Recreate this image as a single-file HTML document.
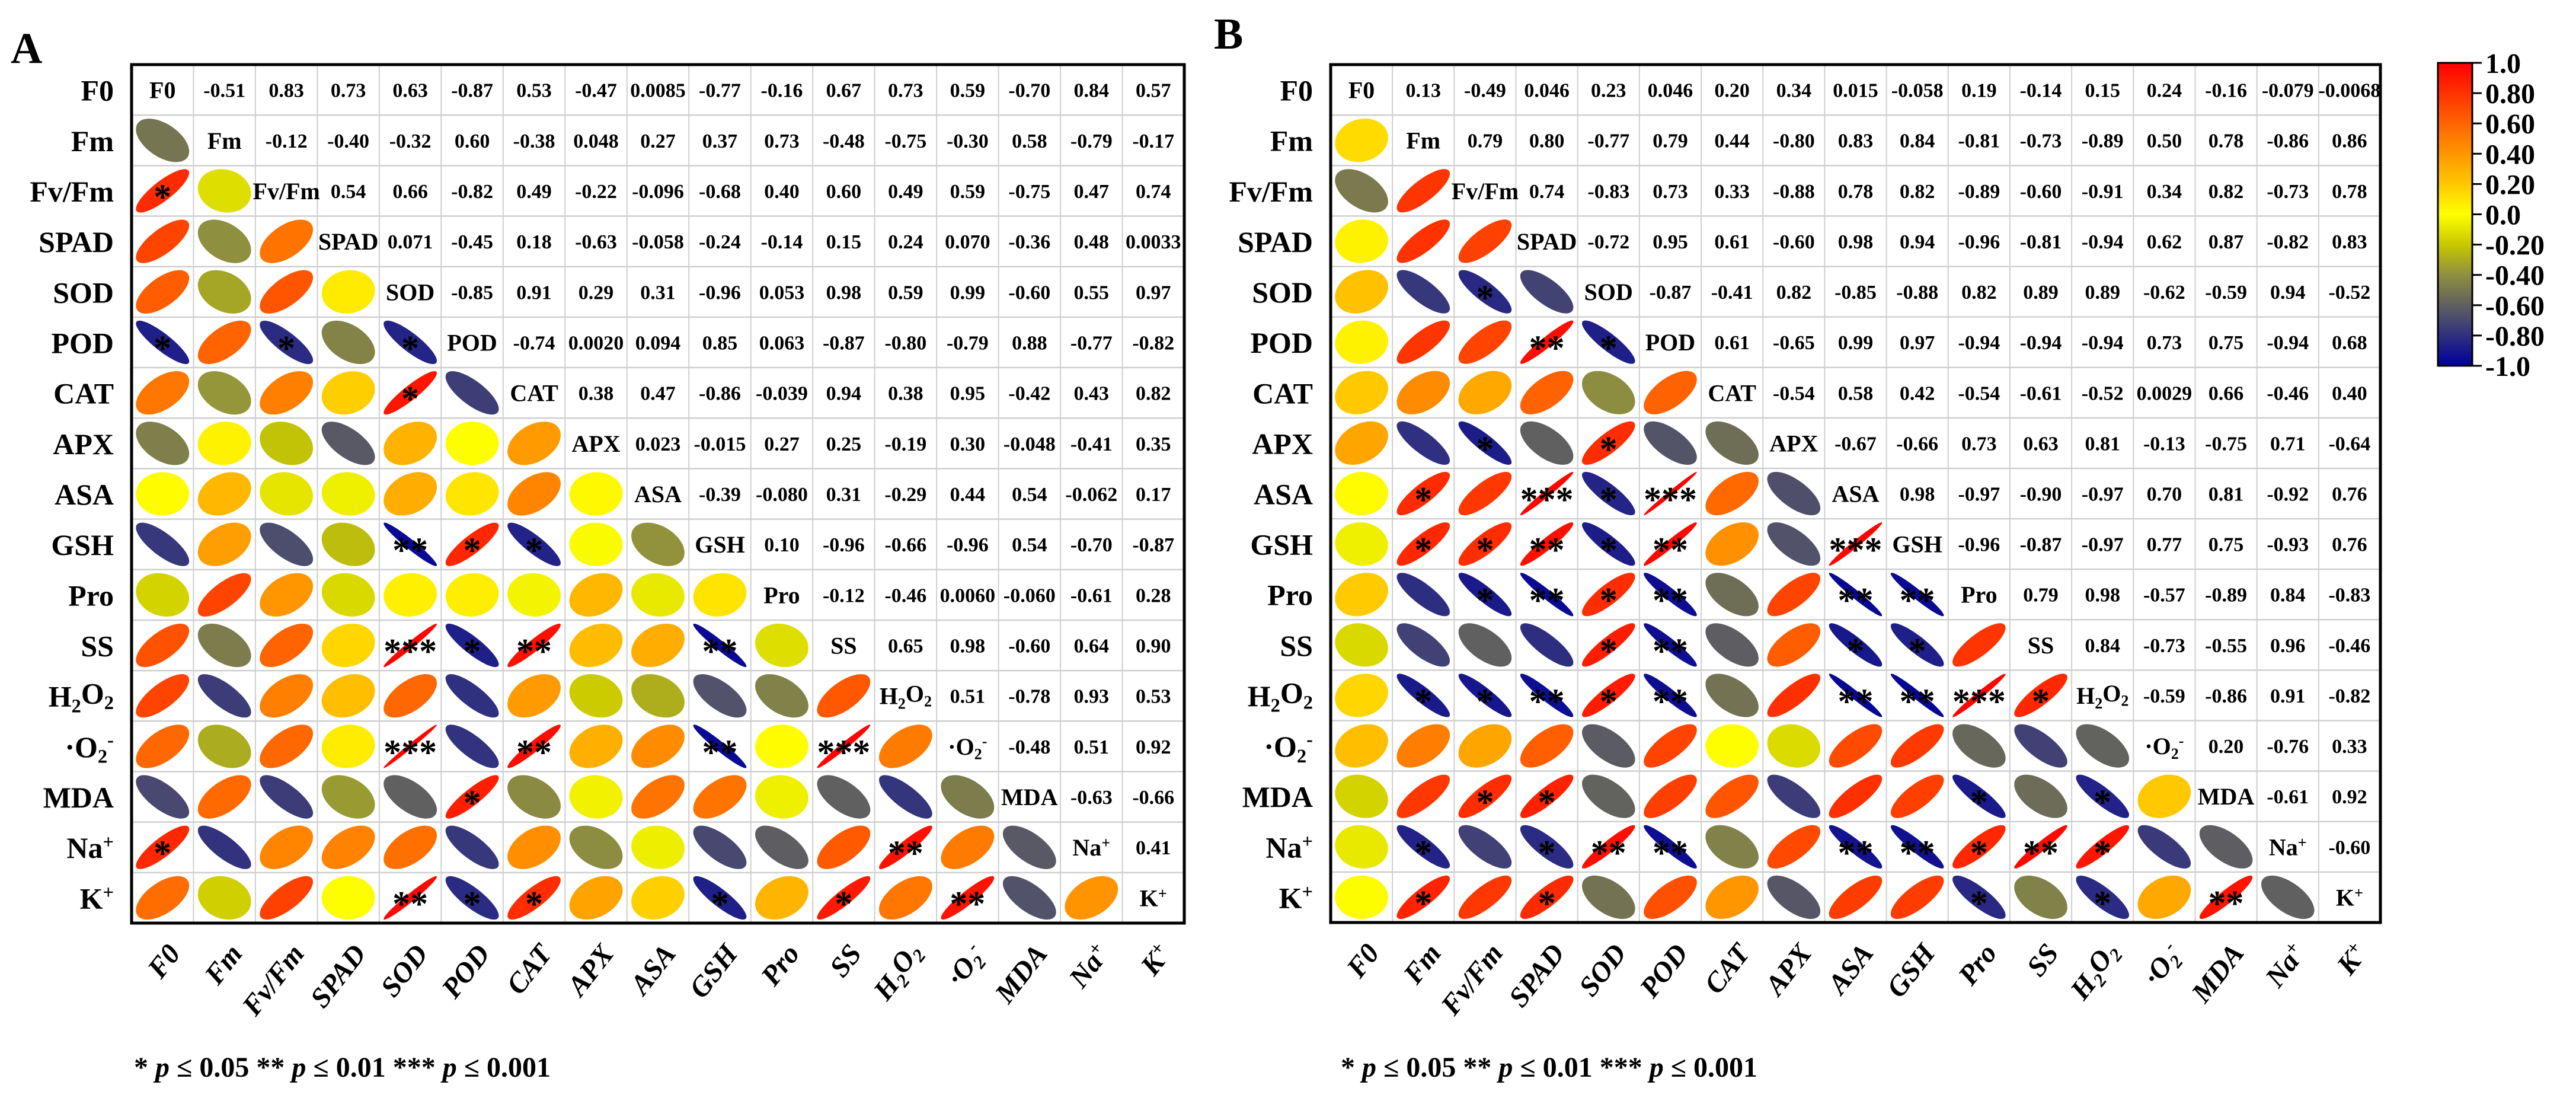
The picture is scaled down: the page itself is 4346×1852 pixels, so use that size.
<!DOCTYPE html>
<html><head><meta charset="utf-8"><title>Correlation matrices</title>
<style>
html,body{margin:0;padding:0;background:#fff;}
svg{display:block;font-family:"Liberation Serif","DejaVu Serif",serif;}
</style></head>
<body>
<svg id="chart" xmlns="http://www.w3.org/2000/svg" width="4346" height="1852" viewBox="0 0 4346 1852">
<rect x="0" y="0" width="4346" height="1852" fill="#fff"/>
<g id="panelA"></g>
<g id="panelB"></g>
<g id="cbar"></g>
</svg>
<script>
const variables = ['F0','Fm','Fv/Fm','SPAD','SOD','POD','CAT','APX','ASA','GSH','Pro','SS','H2O2','O2','MDA','Na','K'];
const aValues = [
[-0.51,0.83,0.73,0.63,-0.87,0.53,-0.47,0.0085,-0.77,-0.16,0.67,0.73,0.59,-0.70,0.84,0.57],
[-0.12,-0.40,-0.32,0.60,-0.38,0.048,0.27,0.37,0.73,-0.48,-0.75,-0.30,0.58,-0.79,-0.17],
[0.54,0.66,-0.82,0.49,-0.22,-0.096,-0.68,0.40,0.60,0.49,0.59,-0.75,0.47,0.74],
[0.071,-0.45,0.18,-0.63,-0.058,-0.24,-0.14,0.15,0.24,0.070,-0.36,0.48,0.0033],
[-0.85,0.91,0.29,0.31,-0.96,0.053,0.98,0.59,0.99,-0.60,0.55,0.97],
[-0.74,0.0020,0.094,0.85,0.063,-0.87,-0.80,-0.79,0.88,-0.77,-0.82],
[0.38,0.47,-0.86,-0.039,0.94,0.38,0.95,-0.42,0.43,0.82],
[0.023,-0.015,0.27,0.25,-0.19,0.30,-0.048,-0.41,0.35],
[-0.39,-0.080,0.31,-0.29,0.44,0.54,-0.062,0.17],
[0.10,-0.96,-0.66,-0.96,0.54,-0.70,-0.87],
[-0.12,-0.46,0.0060,-0.060,-0.61,0.28],
[0.65,0.98,-0.60,0.64,0.90],
[0.51,-0.78,0.93,0.53],
[-0.48,0.51,0.92],
[-0.63,-0.66],
[0.41]
];
const aLabels = [
["-0.51","0.83","0.73","0.63","-0.87","0.53","-0.47","0.0085","-0.77","-0.16","0.67","0.73","0.59","-0.70","0.84","0.57"],
["-0.12","-0.40","-0.32","0.60","-0.38","0.048","0.27","0.37","0.73","-0.48","-0.75","-0.30","0.58","-0.79","-0.17"],
["0.54","0.66","-0.82","0.49","-0.22","-0.096","-0.68","0.40","0.60","0.49","0.59","-0.75","0.47","0.74"],
["0.071","-0.45","0.18","-0.63","-0.058","-0.24","-0.14","0.15","0.24","0.070","-0.36","0.48","0.0033"],
["-0.85","0.91","0.29","0.31","-0.96","0.053","0.98","0.59","0.99","-0.60","0.55","0.97"],
["-0.74","0.0020","0.094","0.85","0.063","-0.87","-0.80","-0.79","0.88","-0.77","-0.82"],
["0.38","0.47","-0.86","-0.039","0.94","0.38","0.95","-0.42","0.43","0.82"],
["0.023","-0.015","0.27","0.25","-0.19","0.30","-0.048","-0.41","0.35"],
["-0.39","-0.080","0.31","-0.29","0.44","0.54","-0.062","0.17"],
["0.10","-0.96","-0.66","-0.96","0.54","-0.70","-0.87"],
["-0.12","-0.46","0.0060","-0.060","-0.61","0.28"],
["0.65","0.98","-0.60","0.64","0.90"],
["0.51","-0.78","0.93","0.53"],
["-0.48","0.51","0.92"],
["-0.63","-0.66"],
["0.41"]
];
const aStars = [[2,0,1],[5,0,1],[5,2,1],[5,4,1],[6,4,1],[9,4,2],[9,5,1],[9,6,1],[11,4,3],[11,5,1],[11,6,2],[11,9,2],[13,4,3],[13,6,2],[13,9,2],[13,11,3],[14,5,1],[15,0,1],[15,12,2],[16,4,2],[16,5,1],[16,6,1],[16,9,1],[16,11,1],[16,13,2]];
const bValues = [
[0.13,-0.49,0.046,0.23,0.046,0.20,0.34,0.015,-0.058,0.19,-0.14,0.15,0.24,-0.16,-0.079,-0.0068],
[0.79,0.80,-0.77,0.79,0.44,-0.80,0.83,0.84,-0.81,-0.73,-0.89,0.50,0.78,-0.86,0.86],
[0.74,-0.83,0.73,0.33,-0.88,0.78,0.82,-0.89,-0.60,-0.91,0.34,0.82,-0.73,0.78],
[-0.72,0.95,0.61,-0.60,0.98,0.94,-0.96,-0.81,-0.94,0.62,0.87,-0.82,0.83],
[-0.87,-0.41,0.82,-0.85,-0.88,0.82,0.89,0.89,-0.62,-0.59,0.94,-0.52],
[0.61,-0.65,0.99,0.97,-0.94,-0.94,-0.94,0.73,0.75,-0.94,0.68],
[-0.54,0.58,0.42,-0.54,-0.61,-0.52,0.0029,0.66,-0.46,0.40],
[-0.67,-0.66,0.73,0.63,0.81,-0.13,-0.75,0.71,-0.64],
[0.98,-0.97,-0.90,-0.97,0.70,0.81,-0.92,0.76],
[-0.96,-0.87,-0.97,0.77,0.75,-0.93,0.76],
[0.79,0.98,-0.57,-0.89,0.84,-0.83],
[0.84,-0.73,-0.55,0.96,-0.46],
[-0.59,-0.86,0.91,-0.82],
[0.20,-0.76,0.33],
[-0.61,0.92],
[-0.60]
];
const bLabels = [
["0.13","-0.49","0.046","0.23","0.046","0.20","0.34","0.015","-0.058","0.19","-0.14","0.15","0.24","-0.16","-0.079","-0.0068"],
["0.79","0.80","-0.77","0.79","0.44","-0.80","0.83","0.84","-0.81","-0.73","-0.89","0.50","0.78","-0.86","0.86"],
["0.74","-0.83","0.73","0.33","-0.88","0.78","0.82","-0.89","-0.60","-0.91","0.34","0.82","-0.73","0.78"],
["-0.72","0.95","0.61","-0.60","0.98","0.94","-0.96","-0.81","-0.94","0.62","0.87","-0.82","0.83"],
["-0.87","-0.41","0.82","-0.85","-0.88","0.82","0.89","0.89","-0.62","-0.59","0.94","-0.52"],
["0.61","-0.65","0.99","0.97","-0.94","-0.94","-0.94","0.73","0.75","-0.94","0.68"],
["-0.54","0.58","0.42","-0.54","-0.61","-0.52","0.0029","0.66","-0.46","0.40"],
["-0.67","-0.66","0.73","0.63","0.81","-0.13","-0.75","0.71","-0.64"],
["0.98","-0.97","-0.90","-0.97","0.70","0.81","-0.92","0.76"],
["-0.96","-0.87","-0.97","0.77","0.75","-0.93","0.76"],
["0.79","0.98","-0.57","-0.89","0.84","-0.83"],
["0.84","-0.73","-0.55","0.96","-0.46"],
["-0.59","-0.86","0.91","-0.82"],
["0.20","-0.76","0.33"],
["-0.61","0.92"],
["-0.60"]
];
const bStars = [[4,2,1],[5,3,2],[5,4,1],[7,2,1],[7,4,1],[8,1,1],[8,3,3],[8,4,1],[8,5,3],[9,1,1],[9,2,1],[9,3,2],[9,4,1],[9,5,2],[9,8,3],[10,2,1],[10,3,2],[10,4,1],[10,5,2],[10,8,2],[10,9,2],[11,4,1],[11,5,2],[11,8,1],[11,9,1],[12,1,1],[12,2,1],[12,3,2],[12,4,1],[12,5,2],[12,8,2],[12,9,2],[12,10,3],[12,11,1],[14,2,1],[14,3,1],[14,10,1],[14,12,1],[15,1,1],[15,3,1],[15,4,2],[15,5,2],[15,8,2],[15,9,2],[15,10,1],[15,11,2],[15,12,1],[16,1,1],[16,3,1],[16,10,1],[16,12,1],[16,14,2]];
const cbarTicks = [1.0,0.8,0.6,0.4,0.2,0.0,-0.2,-0.4,-0.6,-0.8,-1.0];
const cbarTickLabels = ["1.0","0.80","0.60","0.40","0.20","0.0","-0.20","-0.40","-0.60","-0.80","-1.0"];

const NS = "http://www.w3.org/2000/svg";
const stops = [[-1,[0,0,153]],[-0.8,[48,48,128]],[-0.6,[96,96,96]],[-0.4,[143,143,64]],[-0.2,[200,200,0]],[0,[255,255,0]],[0.2,[255,200,0]],[0.4,[255,150,0]],[0.6,[255,100,0]],[0.8,[255,50,0]],[1,[255,0,0]]];
function colorOf(r){
  r=Math.max(-1,Math.min(1,r));
  for(let i=0;i<stops.length-1;i++){
    const a=stops[i],b=stops[i+1];
    if(r>=a[0]&&r<=b[0]){const t=(r-a[0])/(b[0]-a[0]);
      const c=a[1].map((v,k)=>Math.round(v+(b[1][k]-v)*t));return `rgb(${c[0]},${c[1]},${c[2]})`;}
  }
  return 'red';
}
function mk(tag,attrs,parent){const e=document.createElementNS(NS,tag);for(const k in attrs)e.setAttribute(k,attrs[k]);parent.appendChild(e);return e;}
function addLabel(t,name){
  const span=(txt,shift,size)=>{const s=document.createElementNS(NS,'tspan');s.textContent=txt;if(shift){s.setAttribute('dy',shift);}if(size)s.setAttribute('font-size',size);t.appendChild(s);return s;};
  if(name==='H2O2'){span('H');span('2','0.3em','0.65em');span('O','-0.3em');span('2','0.3em','0.65em');}
  else if(name==='O2'){span('·O');span('2','0.3em','0.65em');span('-','-0.85em','0.65em');}
  else if(name==='Na'){span('Na');span('+','-0.5em','0.65em');}
  else if(name==='K'){span('K');span('+','-0.5em','0.65em');}
  else span(name);
}
function getVal(vals,i,j){ if(i===j) return 1; const a=Math.min(i,j),b=Math.max(i,j); return vals[a][b-a-1]; }

function drawPanel(g,x0,y0,W,H,vals,labs,stars,letter,letterX,letterY,legendX){
  const n=variables.length, cw=W/n, ch=H/n;
  const xs=j=>x0+j*cw, ys=i=>y0+i*ch;
  const L=mk('text',{x:letterX,y:letterY,'font-size':74,'font-weight':'bold',fill:'#000'},g);
  L.textContent=letter;
  
  
  for(let k=1;k<n;k++){
    const v=mk('line',{x1:xs(k),y1:y0,x2:xs(k),y2:y0+H,stroke:'#cfcfcf','stroke-width':2},g);
    
    
    const h=mk('line',{x1:x0,y1:ys(k),x2:x0+W,y2:ys(k),stroke:'#cfcfcf','stroke-width':2.5},g);
    
    
  }
  for(let i=0;i<n;i++){
    const rl=mk('text',{x:x0-30,y:ys(i)+ch/2+18,'text-anchor':'end','font-size':50,'font-weight':'bold'},g);
    addLabel(rl,variables[i]);
    
    
    const cx=xs(i)+cw/2+32, cy=y0+H+52;
    const cl=mk('text',{x:cx,y:cy,'text-anchor':'end','font-size':48,'font-weight':'bold','font-style':'italic',transform:`rotate(-52 ${cx} ${cy})`},g);
    addLabel(cl,variables[i]);
    
    
    for(let j=0;j<n;j++){
      const ccx=xs(j)+cw/2, ccy=ys(i)+ch/2;
      if(i===j){
        const d=mk('text',{x:ccx,y:ccy+14,'text-anchor':'middle','font-size':40,'font-weight':'bold'},g);
        addLabel(d,variables[i]);
        
        
      } else if(j>i){
        const t=mk('text',{x:ccx,y:ccy+12,'text-anchor':'middle','font-size':34,'font-weight':'bold'},g);
        t.textContent=labs[i][j-i-1];
        
        
      } else {
        const r=getVal(vals,i,j);
        const dd=Math.acos(Math.max(-0.999,Math.min(0.999,r)));
        const sx=cw*0.43, sy=ch*0.43;
        let p='';
        for(let s=0;s<=72;s++){const tt=s/72*2*Math.PI;
          const px=ccx+Math.cos(tt+dd/2)*sx, py=ccy-Math.cos(tt-dd/2)*sy;
          p+=(s?'L':'M')+px.toFixed(1)+' '+py.toFixed(1);}
        const e=mk('path',{d:p+'Z',fill:colorOf(r)},g);
        
        
      }
    }
  }
  stars.forEach(s=>{
    const st=mk('text',{x:xs(s[1])+cw/2,y:ys(s[0])+ch/2+30,'text-anchor':'middle','font-size':60,'font-weight':'bold',fill:'#000'},g);
    st.textContent='*'.repeat(s[2]);
    
    
  });
  const border=mk('rect',{x:x0,y:y0,width:W,height:H,fill:'none',stroke:'#000','stroke-width':5},g);
  
  
  const lg=mk('text',{x:legendX,y:1816,'font-size':48,'font-weight':'bold'},g);
  
  
  lg.innerHTML='* <tspan font-style="italic">p</tspan> ≤ 0.05  ** <tspan font-style="italic">p</tspan> ≤ 0.01  *** <tspan font-style="italic">p</tspan> ≤ 0.001';
}
drawPanel(document.getElementById('panelA'),222,109,1776,1448,aValues,aLabels,aStars,'A',18,106,226);
drawPanel(document.getElementById('panelB'),2245,109,1771,1447,bValues,bLabels,bStars,'B',2048,82,2262);

(function(){
  const g=document.getElementById('cbar');
  const x=4113,w=58,yTop=106,yBot=617;
  const ys=v=>yTop+(1-v)/2*(yBot-yTop);
  const defs=mk('defs',{},g);
  const lgd=mk('linearGradient',{id:'cg',x1:0,y1:0,x2:0,y2:1},defs);
  stops.slice().reverse().forEach(s=>{mk('stop',{offset:((1-s[0])/2*100)+'%','stop-color':colorOf(s[0])},lgd);});
  const r=mk('rect',{x:x,y:ys(1),width:w,height:ys(-1)-ys(1),fill:'url(#cg)',stroke:'#000','stroke-width':3},g);
  
  
  cbarTicks.forEach((v,k)=>{
    const tk=mk('line',{x1:x+w,y1:ys(v),x2:x+w+16,y2:ys(v),stroke:'#000','stroke-width':3},g);
    
    
    const t=mk('text',{x:x+w+22,y:ys(v)+17,'font-size':48,'font-weight':'bold'},g);
    t.textContent=cbarTickLabels[k];
    
    
  });
})();
</script>
</body></html>
